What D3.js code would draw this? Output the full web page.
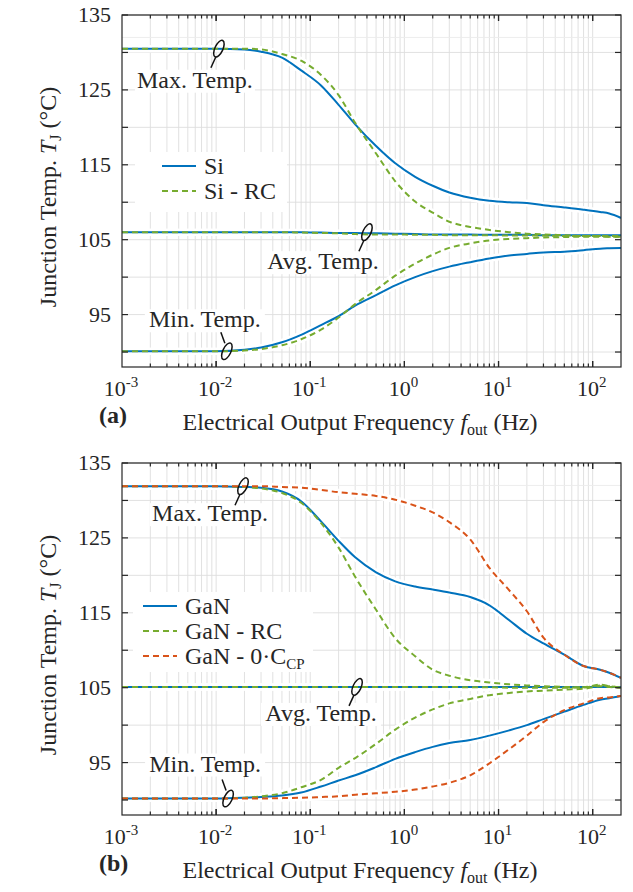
<!DOCTYPE html>
<html>
<head>
<meta charset="utf-8">
<script src="https://cdn.jsdelivr.net/npm/d3@7"></script>
<style>
  body { margin: 0; background: #fff; }
  text { font-family: "Liberation Serif", "Times New Roman", serif; fill: #262626; }
</style>
</head>
<body>
<svg id="chart" width="633" height="892"></svg>
<script>
// frequency points (Hz) shared by all series
const freqs = [0.001, 0.01, 0.02, 0.03, 0.05, 0.08, 0.13, 0.2, 0.3, 0.5, 0.8, 1.3, 2, 3, 5, 8, 13, 20, 30, 50, 80, 120, 150, 200];

// (a) Si
const siMax   = [130.5,130.5,130.4,130.1,129.3,127.6,125.6,123.0,120.4,117.5,115.2,113.4,112.2,111.3,110.6,110.2,110.0,109.9,109.6,109.3,109.0,108.7,108.5,107.9];
const siRcMax = [130.5,130.5,130.5,130.4,129.8,128.9,127.0,124.3,120.6,116.5,112.8,110.1,108.6,107.4,106.7,106.3,106.0,105.8,105.7,105.6,105.5,105.5,105.4,105.4];
const siAvg   = [106.0,106.0,106.0,106.0,106.0,106.0,105.95,105.9,105.9,105.85,105.8,105.75,105.7,105.7,105.7,105.65,105.65,105.65,105.6,105.6,105.6,105.6,105.6,105.6];
const siRcAvg = [106.0,106.0,106.0,106.0,106.0,105.95,105.9,105.85,105.75,105.7,105.7,105.65,105.65,105.6,105.6,105.6,105.55,105.55,105.55,105.5,105.5,105.5,105.5,105.5];
const siMin   = [90.1,90.1,90.3,90.6,91.3,92.3,93.6,94.8,96.2,97.6,98.9,100.0,100.8,101.4,102.0,102.5,102.9,103.1,103.3,103.4,103.6,103.8,103.85,103.9];
const siRcMin = [90.1,90.1,90.2,90.4,90.9,91.7,93.0,94.6,96.4,98.3,100.2,101.8,103.0,103.9,104.5,104.9,105.1,105.2,105.3,105.35,105.4,105.4,105.4,105.4];

// (b) GaN
const ganMax     = [131.9,131.9,131.8,131.7,131.2,129.9,127.2,124.6,122.4,120.4,119.2,118.5,118.1,117.7,117.1,116.0,114.0,112.2,110.9,109.4,107.9,107.4,107.0,106.3];
const ganRcMax   = [131.9,131.9,131.8,131.6,131.0,129.7,127.0,123.7,119.8,115.4,111.6,109.2,107.4,106.6,106.0,105.7,105.45,105.3,105.2,105.1,105.05,105.3,105.2,105.0];
const ganCpMax   = [131.9,131.9,131.9,131.9,131.8,131.7,131.4,131.1,130.9,130.6,130.1,129.3,128.4,127.1,124.8,121.0,118.0,115.2,111.7,109.4,107.9,107.4,107.0,106.3];
const ganAvg     = [105.1,105.1,105.1,105.1,105.1,105.1,105.1,105.1,105.1,105.1,105.1,105.1,105.1,105.1,105.1,105.1,105.1,105.1,105.1,105.1,105.1,105.1,105.1,105.1];
const ganRcAvg   = [105.1,105.1,105.1,105.1,105.1,105.1,105.1,105.1,105.1,105.1,105.1,105.1,105.1,105.1,105.05,105.05,105.0,105.0,105.0,105.0,105.05,105.4,105.2,105.0];
const ganCpAvg   = ganAvg;
const ganMin     = [90.2,90.2,90.3,90.4,90.6,91.0,91.8,92.6,93.3,94.4,95.5,96.4,97.1,97.6,98.0,98.6,99.3,100.0,100.8,101.8,102.7,103.4,103.6,103.9];
const ganRcMin   = [90.2,90.2,90.3,90.5,90.9,91.7,92.7,94.3,95.6,97.5,99.4,101.0,102.1,102.9,103.5,104.0,104.3,104.5,104.6,104.75,104.85,105.2,105.1,105.0];
const ganCpMin   = [90.2,90.2,90.2,90.2,90.25,90.3,90.4,90.5,90.7,90.9,91.1,91.4,91.8,92.3,93.3,94.9,96.8,98.6,100.4,102.0,102.9,103.6,103.7,103.9];

const yTickValues  = [90, 95, 100, 105, 110, 115, 120, 125, 130, 135];
const yTickLabels  = [95, 105, 115, 125, 135];
const xMajorTicks  = [1e-3, 1e-2, 1e-1, 1e0, 1e1, 1e2];
const annotationText = ["Max. Temp.", "Avg. Temp.", "Min. Temp."];

const colors = { blue: "#0072BD", green: "#77AC30", orange: "#D95319" };

const panels = [
  {
    tag: "(a)", top: 15, bottom: 367,
    series: [
      { values: siMax, color: colors.blue }, { values: siAvg, color: colors.blue }, { values: siMin, color: colors.blue },
      { values: siRcMax, color: colors.green, dash: true }, { values: siRcAvg, color: colors.green, dash: true }, { values: siRcMin, color: colors.green, dash: true }
    ],
    legend: [
      { label: ["Si"], color: colors.blue },
      { label: ["Si - RC"], color: colors.green, dash: true }
    ],
    legendBox: { x: 135, y: 152, w: 152, h: 60 },
    annots: [
      { f: 0.0107, v: 130.5, dx: -24, dy: 39 },
      { f: 0.40,  v: 106.0, dx: -44, dy: 37 },
      { f: 0.013, v: 90.1,  dx: -22, dy: -24 }
    ]
  },
  {
    tag: "(b)", top: 463, bottom: 815,
    series: [
      { values: ganCpAvg, color: colors.orange, dash: true },
      { values: ganMax, color: colors.blue }, { values: ganAvg, color: colors.blue }, { values: ganMin, color: colors.blue },
      { values: ganRcMax, color: colors.green, dash: true }, { values: ganRcAvg, color: colors.green, dash: true }, { values: ganRcMin, color: colors.green, dash: true },
      { values: ganCpMax, color: colors.orange, dash: true }, { values: ganCpMin, color: colors.orange, dash: true }
    ],
    legend: [
      { label: ["GaN"], color: colors.blue },
      { label: ["GaN - RC"], color: colors.green, dash: true },
      { label: ["GaN - 0·C", "CP"], color: colors.orange, dash: true }
    ],
    legendBox: { x: 133, y: 592, w: 180, h: 80 },
    annots: [
      { f: 0.0193, v: 131.9, dx: -33, dy: 35 },
      { f: 0.314, v: 105.1,  dx: -36, dy: 34 },
      { f: 0.0134, v: 90.2,  dx: -23, dy: -27 }
    ]
  }
];

const svg = d3.select("#chart");
const left = 122, right = 621;

panels.forEach((p, pi) => {
  const x = d3.scaleLog().domain([1e-3, 200]).range([left, right]);
  const y = d3.scaleLinear().domain([88, 135]).range([p.bottom, p.top]);
  const g = svg.append("g");

  const clipId = "clip" + pi;
  g.append("clipPath").attr("id", clipId)
    .append("rect").attr("x", left).attr("y", p.top).attr("width", right - left).attr("height", p.bottom - p.top);

  // grid
  const minorX = [];
  for (let e = -3; e <= 2; e++) for (let k = 1; k <= 9; k++) {
    const v = k * Math.pow(10, e);
    if (v > 1e-3 && v < 200) minorX.push(v);
  }
  const grid = g.append("g").attr("stroke", "#dedede").attr("stroke-width", 0.9);
  grid.selectAll(".vx").data(minorX).join("line")
    .attr("x1", d => x(d)).attr("x2", d => x(d)).attr("y1", p.top).attr("y2", p.bottom);
  grid.selectAll(".hy").data(yTickValues.concat([132])).join("line")
    .attr("x1", left).attr("x2", right).attr("y1", d => y(d)).attr("y2", d => y(d))
    .attr("stroke", d => d === 132 ? "#ececec" : "#dedede");

  // curves
  const line = d3.line().x(d => x(d[0])).y(d => y(d[1])).curve(d3.curveMonotoneX);
  const plot = g.append("g").attr("clip-path", `url(#${clipId})`);
  const dataOf = s => freqs.map((f, i) => [f, s.values[i]]);
  plot.selectAll(".halo").data(p.series).join("path")
    .attr("d", s => line(dataOf(s)))
    .attr("fill", "none").attr("stroke", "#fff").attr("stroke-width", 7);
  plot.selectAll(".curve").data(p.series).join("path")
    .attr("d", s => line(dataOf(s)))
    .attr("fill", "none").attr("stroke", s => s.color).attr("stroke-width", 2)
    .attr("stroke-dasharray", s => s.dash ? "6,4" : null);

  // annotations
  p.annots.forEach((a, i) => {
    const cx = x(a.f), cy = y(a.v);
    const up = a.dy < 0;
    const ag = g.append("g");
    const tx = cx + a.dx, ty = cy + a.dy;
    const tw = 120;
    ag.append("rect").attr("x", tx - tw / 2).attr("y", ty - 18).attr("width", tw).attr("height", 23).attr("fill", "#fff");
    ag.append("text").attr("x", tx).attr("y", ty).attr("text-anchor", "middle").attr("font-size", 24).text(annotationText[i]);
    ag.append("ellipse").attr("cx", cx).attr("cy", cy).attr("rx", 4).attr("ry", 9)
      .attr("transform", `rotate(25,${cx},${cy})`)
      .attr("fill", "none").attr("stroke", "#111").attr("stroke-width", 1.5);
    ag.append("line")
      .attr("x1", up ? cx - 2 : cx - 3).attr("y1", up ? cy - 8 : cy + 8)
      .attr("x2", up ? cx - 6 : cx - 8).attr("y2", up ? cy - 19 : cy + 19)
      .attr("stroke", "#111").attr("stroke-width", 1.5);
  });

  // legend
  const lb = p.legendBox;
  const lg = g.append("g");
  lg.append("rect").attr("x", lb.x).attr("y", lb.y).attr("width", lb.w).attr("height", lb.h).attr("fill", "#fff");
  p.legend.forEach((L, i) => {
    const ly = lb.y + 14 + i * 25;
    const lx0 = pi === 0 ? 162 : 143;
    lg.append("line").attr("x1", lx0).attr("x2", lx0 + 34).attr("y1", ly).attr("y2", ly)
      .attr("stroke", L.color).attr("stroke-width", 2).attr("stroke-dasharray", L.dash ? "6,4" : null);
    const t = lg.append("text").attr("x", lx0 + 42).attr("y", ly + 8).attr("font-size", 24);
    t.append("tspan").text(L.label[0]);
    if (L.label[1]) t.append("tspan").attr("dy", 5).attr("font-size", 15).text(L.label[1]);
  });

  // axes box and ticks
  const ax = g.append("g").attr("stroke", "#262626").attr("stroke-width", 1.2);
  ax.append("rect").attr("x", left).attr("y", p.top).attr("width", right - left).attr("height", p.bottom - p.top).attr("fill", "none");
  ax.selectAll(".xt").data(minorX.concat(xMajorTicks.slice(1))).join("g").each(function (d) {
    const len = xMajorTicks.includes(d) ? 6 : 3.5;
    const s = d3.select(this);
    s.append("line").attr("x1", x(d)).attr("x2", x(d)).attr("y1", p.bottom).attr("y2", p.bottom - len);
    s.append("line").attr("x1", x(d)).attr("x2", x(d)).attr("y1", p.top).attr("y2", p.top + len);
  });
  ax.selectAll(".yt").data(yTickValues).join("g").each(function (d) {
    const s = d3.select(this);
    s.append("line").attr("x1", left).attr("x2", left + 6).attr("y1", y(d)).attr("y2", y(d));
    s.append("line").attr("x1", right).attr("x2", right - 6).attr("y1", y(d)).attr("y2", y(d));
  });

  // tick labels
  g.selectAll(".yl").data(yTickLabels).join("text")
    .attr("x", left - 11).attr("y", d => y(d) + 7).attr("text-anchor", "end").attr("font-size", 22).text(d => d);
  g.selectAll(".xl").data(xMajorTicks).join("text")
    .attr("x", d => x(d) - 1).attr("y", p.bottom + 29).attr("text-anchor", "middle").attr("font-size", 22)
    .each(function (d) {
      const t = d3.select(this);
      t.append("tspan").text("10");
      t.append("tspan").attr("dy", -9).attr("font-size", 15).text(Math.round(Math.log10(d)));
    });

  // axis titles
  const xt = g.append("text").attr("x", 360).attr("y", p.bottom + 63).attr("text-anchor", "middle").attr("font-size", 24);
  xt.append("tspan").text("Electrical Output Frequency ");
  xt.append("tspan").attr("font-style", "italic").text("f");
  xt.append("tspan").attr("dy", 5).attr("font-size", 16).text("out");
  xt.append("tspan").attr("dy", -5).text(" (Hz)");

  const ycy = (p.top + p.bottom) / 2 + 6;
  const yt = g.append("text").attr("transform", `translate(56,${ycy}) rotate(-90)`).attr("text-anchor", "middle").attr("font-size", 24);
  yt.append("tspan").text("Junction Temp. ");
  yt.append("tspan").attr("font-style", "italic").text("T");
  yt.append("tspan").attr("dy", 5).attr("font-size", 16).text("J");
  yt.append("tspan").attr("dy", -5).text(" (°C)");

  g.append("text").attr("x", 99).attr("y", p.bottom + 56).attr("font-size", 24).attr("font-weight", "bold").text(p.tag);
});
</script>
</body>
</html>
